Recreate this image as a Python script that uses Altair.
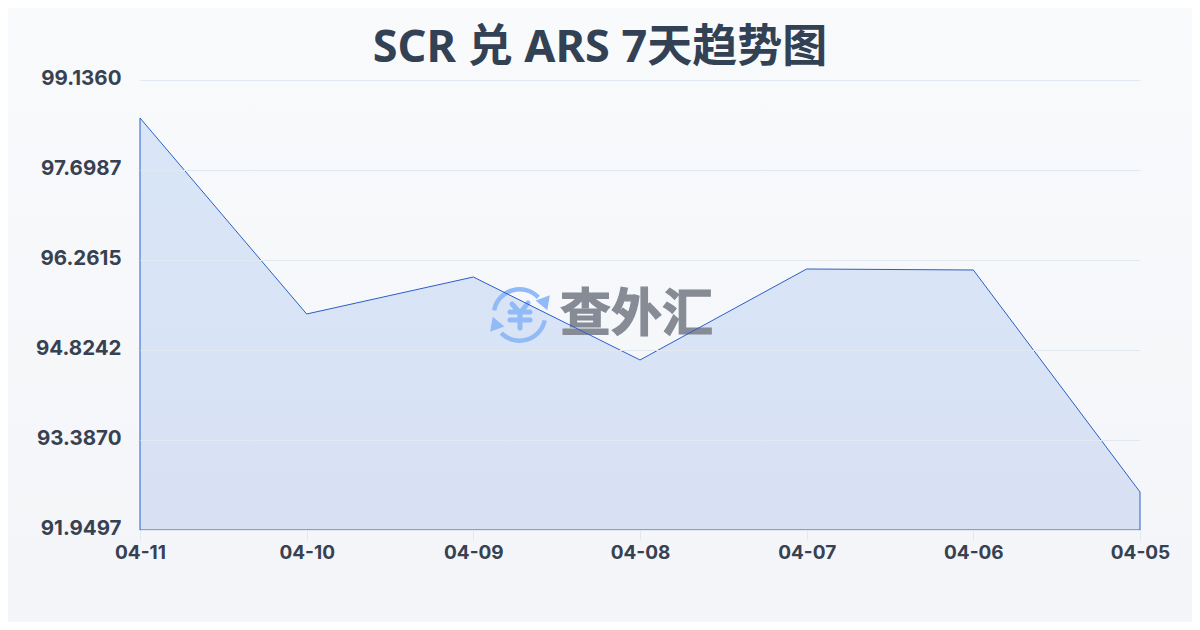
import altair as alt
import pandas as pd

dates = ["04-11", "04-10", "04-09", "04-08", "04-07", "04-06", "04-05"]
rates = [98.529, 95.399, 95.990, 94.665, 96.118, 96.102, 92.557]
y_ticks = [99.1360, 97.6987, 96.2615, 94.8242, 93.3870, 91.9497]
title_text = "SCR 兑 ARS 7天趋势图"
watermark_text = "查外汇"

FONT = "Noto Sans, Noto Sans CJK SC"
LABEL_FONT = "Inter"
ICON = "#92baf7"
df = pd.DataFrame({"date": dates, "rate": rates, "base": [y_ticks[-1]] * len(dates)})
one = df.head(1)

x = alt.X("date:N", sort=dates, title=None,
          scale=alt.Scale(type="point", padding=0),
          axis=alt.Axis(labelAngle=0, labelFont=LABEL_FONT, labelFontSize=19, labelFontWeight="bold",
                        labelColor="#374151", labelPadding=3, tickColor="#e2e8f0", tickSize=10,
                        domain=False, grid=False, zindex=1))
y = alt.Y("rate:Q", title=None,
          scale=alt.Scale(domain=[y_ticks[-1], y_ticks[0]], nice=False, zero=False),
          axis=alt.Axis(values=y_ticks, format=".4f", labelFont=LABEL_FONT, labelFontSize=20.5,
                        labelFontWeight="bold", labelColor="#374151", labelPadding=19, ticks=False,
                        labelOffset=-1.5, domain=False, grid=True, gridColor="#e2e8f0", gridWidth=1,
                        zindex=1))
y2 = alt.Y2("base:Q")

bg = alt.Chart(one).mark_rect(
    color=alt.LinearGradient(gradient="linear", x1=0, y1=0, x2=0, y2=1,
                             stops=[alt.GradientStop(color="#f8fafc", offset=0),
                                    alt.GradientStop(color="#f3f5f8", offset=1)])
).encode(x=alt.value(-132), x2=alt.value(1052), y=alt.value(-72), y2=alt.value(542))

area_fill = alt.Chart(df).mark_area(
    color=alt.LinearGradient(gradient="linear", x1=0, y1=0, x2=0, y2=1,
                             stops=[alt.GradientStop(color="#d9e6f7", offset=0),
                                    alt.GradientStop(color="#d8e1f4", offset=1)]),
    interpolate="linear"
).encode(x=x, y=y, y2=y2)

area_line = alt.Chart(df).mark_area(
    fillOpacity=0, stroke="#2a5fc9", strokeWidth=1, interpolate="linear"
).encode(x=x, y=y, y2=y2)

wm = alt.Chart(pd.DataFrame({"t": [watermark_text]})).mark_text(
    font="Noto Sans CJK SC", fontSize=51, fontWeight="bold", color="#868b95",
    stroke="#868b95", strokeWidth=1.2, align="left", baseline="middle"
).encode(text="t:N", x=alt.value(420), y=alt.value(236))

cx, cy = 379.5, 235


def ring(a, b):
    return alt.Chart(one).mark_arc(color=ICON, radius=28, radius2=23.5, theta=a, theta2=b).encode(
        x=alt.value(cx), y=alt.value(cy))


def head(px, py, ang):
    return alt.Chart(one).mark_point(shape="triangle-up", filled=True, color=ICON, opacity=1,
                                     size=230, angle=ang).encode(x=alt.value(px), y=alt.value(py))


def bar(x1, y1, x2_, y2_):
    return alt.Chart(one).mark_rule(color=ICON, strokeWidth=5, strokeCap="round").encode(
        x=alt.value(x1), y=alt.value(y1), x2=alt.value(x2_), y2=alt.value(y2_))


icon = [ring(4.89, 7.1), ring(1.78, 3.93), head(405, 224, 160), head(355, 243, 340),
        bar(372, 224, 380, 233), bar(388, 223, 380, 233),
        bar(370, 232, 390, 232), bar(370, 240, 390, 240), bar(380, 233, 380, 248)]

chart = alt.layer(bg, area_fill, *icon, wm, area_line).properties(
    width=1000, height=450,
    autosize=alt.AutoSizeParams(type="none"),
    padding={"left": 132, "top": 72, "right": 52, "bottom": 92},
    background="#f5f7fa",
    title=alt.TitleParams(title_text, font=FONT, fontSize=45, fontWeight="bold", color="#334155",
                          anchor="middle", dx=-40, offset=-63),
).configure_view(stroke=None)

chart.save("out.html", embed_options={"renderer": "svg", "actions": False})
